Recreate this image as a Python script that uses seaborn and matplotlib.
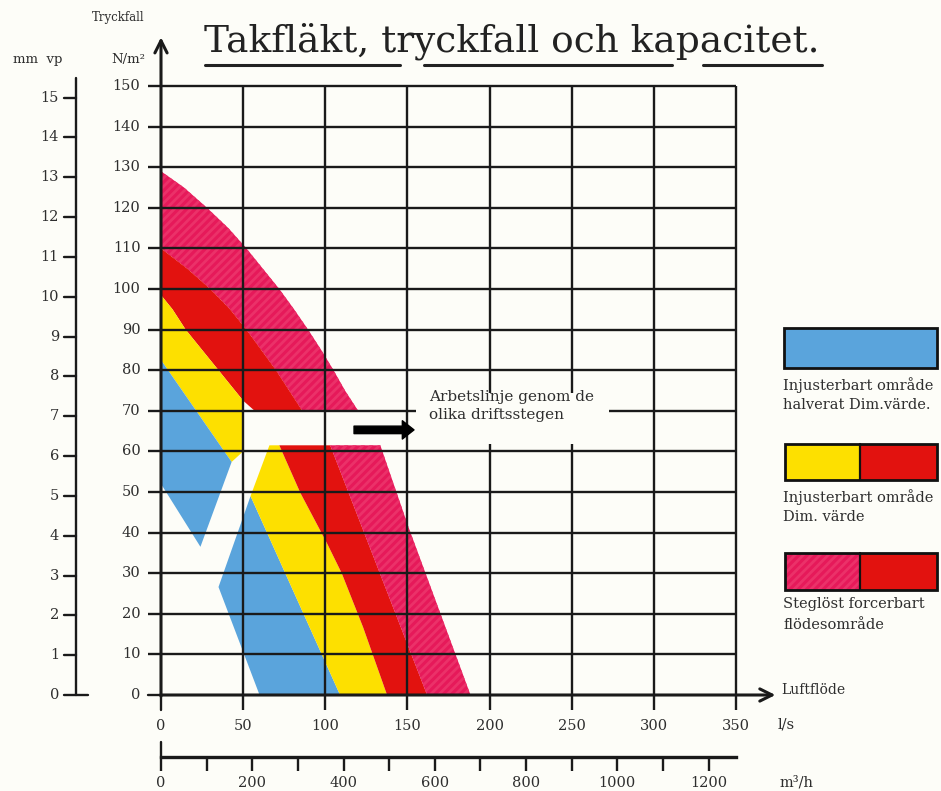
import matplotlib
matplotlib.use('Agg')
import matplotlib.pyplot as plt
from matplotlib.lines import Line2D
from matplotlib.patches import Rectangle
import seaborn as sns

# axis values
ls_ticks = [0, 50, 100, 150, 200, 250, 300, 350]
n_ticks = list(range(0, 151, 10))
mmvp_ticks = list(range(0, 16))
m3h_major = [0, 200, 400, 600, 800, 1000, 1200]
m3h_minor = list(range(0, 1201, 100))

# upper group (l/s, N/m2)
up_outer_x = [0, 14, 28, 41, 52, 62, 72, 81, 89.5, 97.5, 105, 112, 120]
up_outer_y = [129, 125, 120, 115, 110, 105, 100, 95, 90, 85, 80, 75, 70]
up_split_x = [0, 16, 30, 42, 52, 61, 70, 78, 86]
up_split_y = [110, 105, 100, 95, 90, 85, 80, 75, 70]
up_yel_x = [0, 7, 15, 25, 35, 43, 50, 57]
up_yel_y = [98.5, 95, 90, 85, 80, 76, 72.5, 70]
up_yel_tip_x = [50, 43]
up_yel_tip_y = [60, 57.4]
up_blue_x = [0, 43, 24, 0]
up_blue_y = [82.5, 57.4, 36.5, 52]

# lower group
lo_blue_x = [54.5, 35, 60, 109]
lo_blue_y = [49, 26.6, 0, 0]
lo_yr_x = [72, 84.8, 101, 110, 123, 137.6]   # yellow / red border
lo_yr_y = [61.5, 49.8, 37.4, 30, 16.7, 0]
lo_yel_left_x = [54.5, 66]
lo_yel_left_y = [49, 61.5]
lo_rp_x = [103, 162]                          # red / pink border
lo_rp_y = [61.5, 0]
lo_pink_x = [133.5, 150.6, 188.4]
lo_pink_y = [61.5, 41.4, 0]

BLUE = '#5aa4dc'
YELLOW = '#fde000'
RED = '#e2120f'
PINK = '#e6195a'
STRIPE = '#eb3169'
BG = '#fdfdf8'
INK = '#1a1a1a'
TXT = '#2e2e2e'

sns.set_theme(style='white')
plt.rcParams['font.family'] = ['DejaVu Serif']
plt.rcParams['hatch.linewidth'] = 2.0

W, H = 941, 791
fig = plt.figure(figsize=(W / 100, H / 100), dpi=100, facecolor=BG)


def fx(px):
    return px / W


def fy(py):
    return 1 - py / H


ax = fig.add_axes([fx(161), fy(695), (736 - 161) / W, (695 - 86) / H])
ax.set_facecolor(BG)
ax.set_xlim(0, 350)
ax.set_ylim(0, 150)


def poly(xs, ys, color, hatch=None, hcol=None):
    ax.fill(xs, ys, facecolor=color, edgecolor=hcol if hcol else color,
            lw=0, hatch=hatch, zorder=1)


# upper pink
poly(up_outer_x + up_split_x[::-1], up_outer_y + up_split_y[::-1], PINK, '////', STRIPE)
# upper red
poly(up_split_x + up_yel_x[::-1], up_split_y + up_yel_y[::-1], RED)
# upper yellow
poly(up_yel_x[:7] + up_yel_tip_x + [0], up_yel_y[:7] + up_yel_tip_y + [82.5], YELLOW)
# upper blue
poly(up_blue_x, up_blue_y, BLUE)

# lower blue
poly(lo_blue_x, lo_blue_y, BLUE)
# lower yellow
poly(lo_yel_left_x + lo_yr_x + [109], lo_yel_left_y + lo_yr_y + [0], YELLOW)
# lower red
poly(lo_yr_x + lo_rp_x[::-1], lo_yr_y + lo_rp_y[::-1], RED)
# lower pink
poly(lo_rp_x[:1] + lo_pink_x + lo_rp_x[1:], lo_rp_y[:1] + lo_pink_y + lo_rp_y[1:],
     PINK, '////', STRIPE)

# grid
for v in ls_ticks[1:]:
    ax.plot([v, v], [-3.7, 150], color=INK, lw=1.7, zorder=3, clip_on=False,
            solid_capstyle='butt')
for h in n_ticks[1:]:
    ax.plot([-8, 350], [h, h], color=INK, lw=1.7, zorder=3, clip_on=False,
            solid_capstyle='butt')
ax.plot([-8, 0], [0, 0], color=INK, lw=1.7, zorder=3, clip_on=False)
ax.plot([0, 0], [0, -3.7], color=INK, lw=1.7, zorder=3, clip_on=False)

for s in ax.spines.values():
    s.set_visible(False)
ax.set_xticks([])
ax.set_yticks([])

# main axes with arrows
arrow = dict(arrowstyle='->', lw=2.2, color=INK, mutation_scale=22, shrinkA=0, shrinkB=0)
ax.annotate('', xy=(0, 162), xytext=(0, -0.3), arrowprops=arrow,
            annotation_clip=False, zorder=4)
ax.annotate('', xy=(374, 0), xytext=(-0.3, 0), arrowprops=arrow,
            annotation_clip=False, zorder=4)

for v in ls_ticks:
    ax.text(v, -7.6, str(v), ha='center', va='center', fontsize=10.5, color=TXT,
            clip_on=False)
for h in n_ticks:
    ax.text(-12.5, h, str(h), ha='right', va='center', fontsize=10.5, color=TXT,
            clip_on=False)

# working line note
ax.add_patch(Rectangle((155.5, 61.8), 117, 12.6, facecolor=BG, edgecolor='none',
                       zorder=3.5))
ax.text(163, 71.2, 'Arbetslinje genom de\nolika driftsstegen', fontsize=11,
        color=TXT, va='center', ha='left', linespacing=1.3, zorder=5)
ax.annotate('', xy=(154, 65.3), xytext=(117.5, 65.3),
            arrowprops=dict(arrowstyle='simple,head_length=0.7,head_width=1.1,tail_width=0.45',
                            color='black', shrinkA=0, shrinkB=0), zorder=5)

# mm vp axis
mm_px = 76
for t in mmvp_ticks:
    yy = fy(695 - t * 9.81 * 4.06)
    x1 = fx(mm_px + 12) if t == 0 else fx(mm_px)
    fig.add_artist(Line2D([fx(mm_px - 12), x1], [yy, yy], color=INK, lw=1.7))
    fig.text(fx(mm_px - 17), yy, str(t), ha='right', va='center', fontsize=10.5,
             color=TXT)
fig.add_artist(Line2D([fx(mm_px), fx(mm_px)], [fy(695), fy(78)], color=INK, lw=1.7))

# m3/h axis
m_y = 757
m_left, m_right = 161, 736
ax3 = fig.add_axes([fx(m_left), fy(m_y), (m_right - m_left) / W, 14 / H])
ax3.set_xlim(0, 1260)
ax3.set_ylim(0, 1)
ax3.patch.set_visible(False)
for s in ['top', 'left', 'right']:
    ax3.spines[s].set_visible(False)
ax3.spines['bottom'].set_linewidth(2.4)
ax3.spines['bottom'].set_color(INK)
ax3.set_yticks([])
ax3.set_xticks(m3h_major)
ax3.set_xticklabels([str(v) for v in m3h_major], fontsize=10.5, color=TXT)
ax3.set_xticks(m3h_minor, minor=True)
ax3.tick_params(axis='x', which='both', direction='out', length=10, width=1.7,
                color=INK, pad=4, bottom=True)
ax3.plot([0, 0], [0, 1.1], color=INK, lw=1.7, clip_on=False)

# axis labels
fig.text(fx(118), fy(18), 'Tryckfall', ha='center', va='center', fontsize=8.5, color=TXT)
fig.text(fx(145), fy(60), 'N/m²', ha='right', va='center', fontsize=9.5, color=TXT)
fig.text(fx(38), fy(60), 'mm  vp', ha='center', va='center', fontsize=9.5, color=TXT)
fig.text(fx(781), fy(690), 'Luftflöde', ha='left', va='center', fontsize=10, color=TXT)
fig.text(fx(778), fy(725), 'l/s', ha='left', va='center', fontsize=10.5, color=TXT)
fig.text(fx(780), fy(782), 'm³/h', ha='left', va='center', fontsize=10.5, color=TXT)

# title with broken underline
fig.text(fx(204), fy(41), 'Takfläkt, tryckfall och kapacitet.', ha='left',
         va='center', fontsize=27, color='#222222')
for a, b in [(205, 400), (424, 672), (703, 822)]:
    fig.add_artist(Line2D([fx(a), fx(b)], [fy(65), fy(65)], color='#222222', lw=2.2))


# legend boxes
def box(x0, x1, y0, y1, color, hatch=None, hcol=None):
    fig.add_artist(Rectangle((fx(x0), fy(y1)), (x1 - x0) / W, (y1 - y0) / H,
                             transform=fig.transFigure, facecolor=color,
                             edgecolor=hcol if hcol else color, lw=0, hatch=hatch))


box(784, 937, 328, 368, BLUE)
box(785, 860, 444, 480, YELLOW)
box(860, 937, 444, 480, RED)
box(785, 860, 553, 590, PINK, '////', STRIPE)
box(860, 937, 553, 590, RED)
for (x0, x1, y0, y1) in [(784, 937, 328, 368), (785, 937, 444, 480), (785, 937, 553, 590)]:
    fig.add_artist(Rectangle((fx(x0), fy(y1)), (x1 - x0) / W, (y1 - y0) / H,
                             transform=fig.transFigure, facecolor='none',
                             edgecolor='#111111', lw=2))
for xs, y0, y1 in [(860, 444, 480), (860, 553, 590)]:
    fig.add_artist(Line2D([fx(xs), fx(xs)], [fy(y0), fy(y1)], color='#111111', lw=1.6))

legend_texts = [
    (385, 'Injusterbart område'), (405, 'halverat Dim.värde.'),
    (497, 'Injusterbart område'), (517, 'Dim. värde'),
    (604, 'Steglöst forcerbart'), (625, 'flödesområde'),
]
for yy, t in legend_texts:
    fig.text(fx(783), fy(yy), t, ha='left', va='center', fontsize=10.5, color=TXT)

fig.savefig('out.png', dpi=100, facecolor=BG)
